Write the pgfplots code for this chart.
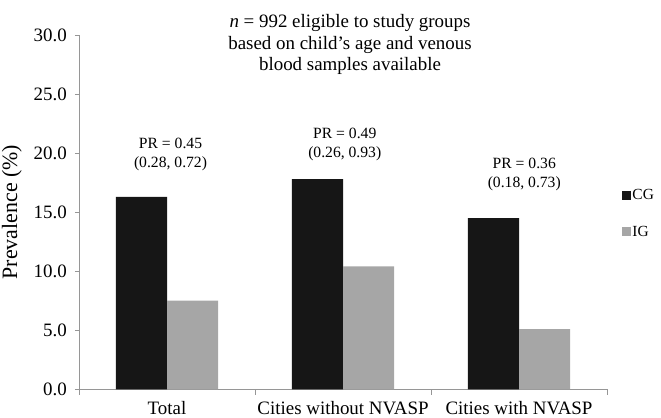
\documentclass[border=0pt]{standalone}
\usepackage{fontspec}
\setmainfont{Liberation Serif}
\usepackage{pgfplots}
\pgfplotsset{compat=1.18}
\definecolor{cgcol}{RGB}{22,22,22}
\definecolor{igcol}{RGB}{166,166,166}
\definecolor{axgray}{RGB}{150,150,150}
\begin{document}
\begin{tikzpicture}
\begin{axis}[
  at={(79bp,-389.3bp)}, anchor=south west,
  scale only axis, width=528bp, height=354.3bp,
  ybar=0pt, bar width=0.29,
  xmin=-0.5, xmax=2.5, ymin=0, ymax=30,
  xtick={0,1,2},
  xticklabels={Total, Cities without NVASP, Cities with NVASP},
  minor xtick={-0.5,0.5,1.5,2.5},
  major x tick style={draw=none},
  ytick={0,5,10,15,20,25,30},
  axis lines*=left,
  axis line style={draw=axgray, line width=0.8bp},
  tick style={draw=axgray, line width=0.8bp},
  tick align=outside, major tick length=4bp, minor tick length=5.5bp,
  /pgf/number format/assume math mode=true,
  yticklabel style={font=\fontsize{19}{21}\selectfont, inner sep=0pt, anchor=east, xshift=-8bp,
    /pgf/number format/fixed, /pgf/number format/fixed zerofill, /pgf/number format/precision=1},
  xticklabel style={font=\fontsize{19}{21}\selectfont, inner sep=0pt, anchor=base, yshift=-21.5bp},
  ylabel={Prevalence (\%)},
  every axis y label/.style={at={(axis description cs:-0.1174,0.5)}, rotate=90, anchor=base, font=\fontsize{22}{24}\selectfont},
  legend style={draw=none, fill=none, at={(1.028,0.496)}, anchor=west, font=\fontsize{15.5}{17}\selectfont, row sep=22bp, inner sep=0pt, nodes={inner sep=1.5bp}},
  legend cell align=left,
  legend image code/.code={\fill[#1] (0bp,-4.5bp) rectangle (9bp,4.5bp);},
]
\addplot[fill=cgcol, draw=none] coordinates {(0,16.3) (1,17.8) (2,14.5)};
\addplot[fill=igcol, draw=none] coordinates {(0,7.5) (1,10.4) (2,5.1)};
\legend{CG, IG}
\node[font=\fontsize{15.7}{18}\selectfont, anchor=base, inner sep=0pt] at (axis cs:0.02,20.38) {PR = 0.45};
\node[font=\fontsize{15.7}{18}\selectfont, anchor=base, inner sep=0pt] at (axis cs:0.02,18.82) {(0.28, 0.72)};
\node[font=\fontsize{15.7}{18}\selectfont, anchor=base, inner sep=0pt] at (axis cs:1.01,21.21) {PR = 0.49};
\node[font=\fontsize{15.7}{18}\selectfont, anchor=base, inner sep=0pt] at (axis cs:1.01,19.65) {(0.26, 0.93)};
\node[font=\fontsize{15.7}{18}\selectfont, anchor=base, inner sep=0pt] at (axis cs:2.03,18.67) {PR = 0.36};
\node[font=\fontsize{15.7}{18}\selectfont, anchor=base, inner sep=0pt] at (axis cs:2.03,17.11) {(0.18, 0.73)};
\end{axis}
\node[anchor=base, inner sep=0pt, font=\fontsize{19}{21}\selectfont] at (350bp,-27.3bp) {\textit{n} = 992 eligible to study groups};
\node[anchor=base, inner sep=0pt, font=\fontsize{19}{21}\selectfont] at (350bp,-49bp) {based on child’s age and venous};
\node[anchor=base, inner sep=0pt, font=\fontsize{19}{21}\selectfont] at (350bp,-70bp) {blood samples available};
\pgfresetboundingbox
\path[use as bounding box] (0,0) rectangle (661bp,-418bp);
\end{tikzpicture}
\end{document}
